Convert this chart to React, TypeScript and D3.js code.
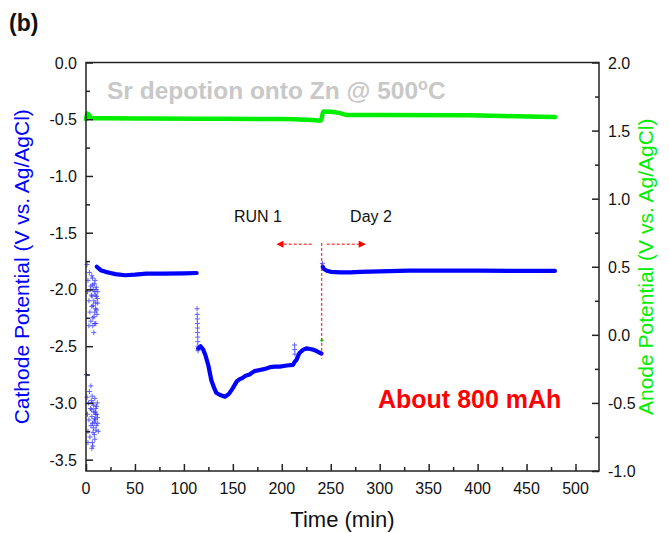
import React, { useEffect, useRef } from 'react';
import * as d3 from 'd3';

// anode potential (right axis), green
const anodeTime = [0, 0.5, 1.5, 3, 5, 8, 20, 60, 120, 180, 213, 240, 242.4, 250, 259.4, 266.3, 300, 389, 440, 479];
const anodeValue = [1.585, 1.6, 1.625, 1.615, 1.595, 1.591, 1.59, 1.589, 1.587, 1.585, 1.584, 1.574, 1.64, 1.638, 1.628, 1.615, 1.615, 1.612, 1.605, 1.599];

// cathode potential (left axis), blue, three continuous runs
const seg1Time = [11, 15, 20, 25, 30, 40, 50, 62, 80, 100, 113];
const seg1Value = [-1.8, -1.83, -1.845, -1.855, -1.865, -1.875, -1.87, -1.86, -1.86, -1.858, -1.855];

const seg2Time = [114.6, 117, 119.7, 122, 125, 128, 131, 133, 137, 142, 146, 150, 154, 157, 160, 163, 167, 172, 177.5, 183, 188, 193, 198, 205, 211.5, 213, 215, 218, 222, 225, 229, 232, 236, 240.5];
const seg2Value = [-2.52, -2.5, -2.53, -2.58, -2.67, -2.8, -2.87, -2.91, -2.93, -2.945, -2.92, -2.87, -2.81, -2.79, -2.78, -2.76, -2.75, -2.72, -2.71, -2.7, -2.685, -2.68, -2.68, -2.67, -2.665, -2.64, -2.62, -2.56, -2.53, -2.52, -2.525, -2.53, -2.545, -2.565];

const seg3Time = [241.8, 243, 246, 250, 260, 270, 280, 300, 330, 360, 400, 440, 479];
const seg3Value = [-1.8, -1.82, -1.835, -1.845, -1.85, -1.85, -1.845, -1.84, -1.835, -1.835, -1.835, -1.837, -1.837];

// scattered cathode points at start-up and the spikes
const scatterTime = [
  1, 1.5, 2, 3, 3.5, 4, 5, 5.5, 6, 6.5, 7, 7.5, 8, 8.5, 9, 9.5, 10, 10.5, 11, 11.5, 7, 8, 9, 12, 5, 6, 4.5, 10, 12, 3,
  6.2, 7.3, 8.8, 9.7, 10.8, 11.2, 6.8, 8.2, 9.3, 10.3,
  0.5, 1, 1.5, 2, 2.5, 3, 3.5, 4, 4.5, 5, 5.5, 6, 6.5, 7, 7.5, 8, 8.5, 9, 9.5, 10, 10.5, 11, 11.5, 12, 6, 7, 12.5, 2, 5, 9,
  5.8, 6.7, 7.8, 8.7, 9.8, 10.7, 11.7, 6.3, 7.2, 8.4, 9.3, 10.2,
  113.5, 113.6, 113.7, 113.8, 113.9, 114, 114.1, 114.2, 114.3, 114.4,
  213, 213.2, 213.4, 241.5,
];
const scatterValue = [
  -1.78, -2.02, -1.92, -2.1, -1.85, -2.2, -1.97, -2.05, -2.15, -1.9, -2.25, -2.0, -2.1, -1.95, -2.2, -2.05, -2.12, -1.98, -2.18, -2.08, -2.32, -2.38, -2.3, -2.02, -2.28, -1.88, -2.0, -2.3, -2.12, -2.32,
  -2.06, -2.14, -2.02, -2.17, -2.06, -2.22, -1.96, -2.24, -1.92, -2.0,
  -2.75, -2.95, -3.1, -3.25, -3.0, -3.15, -2.9, -3.3, -3.05, -3.2, -2.98, -3.12, -3.35, -3.0, -3.22, -3.08, -3.28, -2.96, -3.15, -3.05, -3.2, -3.1, -3.0, -3.18, -3.4, -3.38, -3.25, -3.35, -2.85, -3.32,
  -3.06, -3.18, -3.02, -3.14, -3.1, -3.03, -3.13, -2.94, -3.26, -3.17, -3.08, -3.24,
  -2.17, -2.22, -2.26, -2.3, -2.34, -2.38, -2.42, -2.46, -2.5, -2.54,
  -2.49, -2.53, -2.57, -1.77,
];

const xTicks = [0, 50, 100, 150, 200, 250, 300, 350, 400, 450, 500];
const leftTicks = [0, -0.5, -1, -1.5, -2, -2.5, -3, -3.5];
const rightTicks = [2, 1.5, 1, 0.5, 0, -0.5, -1];

const font = 'Liberation Sans, Arial, sans-serif';

const App = () => {
  const svgRef = useRef(null);

  useEffect(() => {
    drawChart();
  }, []);

  const drawChart = () => {
    const left = 86, right = 599, top = 62.5, bottom = 471;
    const svg = d3.select(svgRef.current);
    svg.selectAll('*').remove();

    const x = d3.scaleLinear().domain([0, 524]).range([left, right]);
    const yL = d3.scaleLinear().domain([-3.6, 0]).range([bottom, top]);
    const yR = d3.scaleLinear().domain([-1, 2]).range([bottom, top]);

    const g = svg.append('g');

    // cathode runs
    const cathLine = d3.line<number>().x(d => x(d[0])).y(d => yL(d[1]));
    [[seg1Time, seg1Value], [seg2Time, seg2Value], [seg3Time, seg3Value]].forEach(([t, v]) => {
      g.append('path')
        .attr('d', cathLine(t.map((d, i) => [d, v[i]])))
        .attr('fill', 'none')
        .attr('stroke', '#0000ff')
        .attr('stroke-width', 4.2)
        .attr('stroke-linejoin', 'round')
        .attr('stroke-linecap', 'round');
    });

    // scattered plus markers
    g.selectAll('.pt')
      .data(scatterTime.map((t, i) => [t, scatterValue[i]]))
      .enter()
      .append('path')
      .attr('d', d => `M${x(d[0]) - 2.5},${yL(d[1])}h5M${x(d[0])},${yL(d[1]) - 2.5}v5`)
      .attr('stroke', '#2a2aff')
      .attr('stroke-width', 1)
      .attr('opacity', 0.75);

    // anode run
    const anLine = d3.line<number>().x(d => x(d[0])).y(d => yR(d[1])).curve(d3.curveMonotoneX);
    g.append('path')
      .attr('d', anLine(anodeTime.map((d, i) => [d, anodeValue[i]])))
      .attr('fill', 'none')
      .attr('stroke', '#00ee00')
      .attr('stroke-width', 4.5)
      .attr('stroke-linecap', 'round');
    g.append('path')
      .attr('d', `M${x(241) - 2},${yR(-0.04)}h4M${x(241)},${yR(-0.04) - 2}v4`)
      .attr('stroke', '#00ee00')
      .attr('stroke-width', 1);

    // RUN 1 / Day 2 divider and arrows
    svg.append('defs').append('marker')
      .attr('id', 'ah')
      .attr('viewBox', '0 0 10 10')
      .attr('refX', 9).attr('refY', 5)
      .attr('markerWidth', 10).attr('markerHeight', 7)
      .attr('markerUnits', 'userSpaceOnUse')
      .attr('orient', 'auto')
      .append('path').attr('d', 'M0,0L10,5L0,10Z').attr('fill', '#ff0000');

    const divX = x(240.8);
    g.append('line')
      .attr('x1', divX).attr('x2', divX)
      .attr('y1', yL(-1.59)).attr('y2', yL(-2.61))
      .attr('stroke', '#ff0000').attr('stroke-width', 1).attr('stroke-dasharray', '3,2');
    const arrowY = yL(-1.601);
    g.append('line')
      .attr('x1', divX - 10).attr('x2', x(195.3))
      .attr('y1', arrowY).attr('y2', arrowY)
      .attr('stroke', '#ff0000').attr('stroke-width', 1).attr('stroke-dasharray', '3,2')
      .attr('marker-end', 'url(#ah)');
    g.append('line')
      .attr('x1', divX + 5).attr('x2', x(285))
      .attr('y1', arrowY).attr('y2', arrowY)
      .attr('stroke', '#ff0000').attr('stroke-width', 1).attr('stroke-dasharray', '3,2')
      .attr('marker-end', 'url(#ah)');

    // frame
    svg.append('rect')
      .attr('x', left).attr('y', top)
      .attr('width', right - left).attr('height', bottom - top)
      .attr('fill', 'none').attr('stroke', '#222').attr('stroke-width', 1.5);

    // bottom axis
    const xa = svg.append('g').attr('transform', `translate(0,${bottom})`)
      .call(d3.axisBottom(x).tickValues(d3.range(0, 525, 25)).tickSize(-7).tickFormat(() => ''));
    xa.selectAll('.tick line').attr('y2', (d: number) => (d % 50 === 0 ? -7 : -4));
    xa.select('.domain').remove();
    xa.selectAll('line').attr('stroke', '#222').attr('stroke-width', 1.5);
    svg.append('g').selectAll('text').data(xTicks).enter().append('text')
      .attr('x', d => x(d)).attr('y', bottom + 23)
      .attr('text-anchor', 'middle')
      .attr('font-family', font).attr('font-size', 16).attr('fill', '#111')
      .text(d => d);

    // left axis
    const la = svg.append('g').attr('transform', `translate(${left},0)`)
      .call(d3.axisLeft(yL).tickValues(d3.range(0, 15).map(i => -i * 0.25)).tickSize(-7).tickFormat(() => ''));
    la.selectAll('.tick line').attr('x2', (d: number) => (Math.abs(d * 2 - Math.round(d * 2)) < 1e-6 ? 7 : 4));
    la.select('.domain').remove();
    la.selectAll('line').attr('stroke', '#222').attr('stroke-width', 1.5);
    svg.append('g').selectAll('text').data(leftTicks).enter().append('text')
      .attr('x', left - 9).attr('y', d => yL(d) + 6)
      .attr('text-anchor', 'end')
      .attr('font-family', font).attr('font-size', 16).attr('fill', '#111')
      .text(d => d3.format('.1f')(d).replace('−', '-'));

    // right axis
    const ra = svg.append('g').attr('transform', `translate(${right},0)`)
      .call(d3.axisRight(yR).tickValues(d3.range(0, 13).map(i => 2 - i * 0.25)).tickSize(-7).tickFormat(() => ''));
    ra.selectAll('.tick line').attr('x2', (d: number) => (Math.abs(d * 2 - Math.round(d * 2)) < 1e-6 ? -7 : -4));
    ra.select('.domain').remove();
    ra.selectAll('line').attr('stroke', '#222').attr('stroke-width', 1.5);
    svg.append('g').selectAll('text').data(rightTicks).enter().append('text')
      .attr('x', right + 9).attr('y', d => yR(d) + 6)
      .attr('text-anchor', 'start')
      .attr('font-family', font).attr('font-size', 16).attr('fill', '#111')
      .text(d => d3.format('.1f')(d).replace('−', '-'));

    // axis titles
    svg.append('text')
      .attr('x', (left + right) / 2).attr('y', 527)
      .attr('text-anchor', 'middle')
      .attr('font-family', font).attr('font-size', 22).attr('fill', '#111')
      .text('Time (min)');
    svg.append('text')
      .attr('transform', `translate(29,${(top + bottom) / 2}) rotate(-90)`)
      .attr('text-anchor', 'middle')
      .attr('font-family', font).attr('font-size', 21).attr('fill', '#0000ff')
      .text('Cathode Potential (V vs. Ag/AgCl)');
    svg.append('text')
      .attr('transform', `translate(653,${(top + bottom) / 2}) rotate(-90)`)
      .attr('text-anchor', 'middle')
      .attr('font-family', font).attr('font-size', 21).attr('fill', '#00ee00')
      .text('Anode Potential (V vs. Ag/AgCl)');

    // annotations
    svg.append('text')
      .attr('x', 9).attr('y', 31)
      .attr('font-family', font).attr('font-size', 23).attr('font-weight', 'bold').attr('fill', '#111')
      .text('(b)');
    const sr = svg.append('text')
      .attr('x', 107).attr('y', 99)
      .attr('font-family', font).attr('font-size', 24.5).attr('font-weight', 'bold').attr('fill', '#c8c8c8');
    sr.append('tspan').text('Sr depotion onto Zn @ 500');
    sr.append('tspan').attr('dy', -9).attr('font-size', 16).text('o');
    sr.append('tspan').attr('dy', 9).text('C');

    svg.append('text')
      .attr('x', 258).attr('y', 222)
      .attr('text-anchor', 'middle')
      .attr('font-family', font).attr('font-size', 16).attr('fill', '#111')
      .text('RUN 1');
    svg.append('text')
      .attr('x', 371).attr('y', 222)
      .attr('text-anchor', 'middle')
      .attr('font-family', font).attr('font-size', 16).attr('fill', '#111')
      .text('Day 2');
    svg.append('text')
      .attr('x', 378).attr('y', 408)
      .attr('font-family', font).attr('font-size', 25).attr('font-weight', 'bold').attr('fill', '#ff0000')
      .text('About 800 mAh');
  };

  return (
    <svg
      ref={svgRef}
      width={669}
      height={533}
      style={{ position: 'absolute', left: 0, top: 0, background: '#fff' }}
    ></svg>
  );
};

export default App;
